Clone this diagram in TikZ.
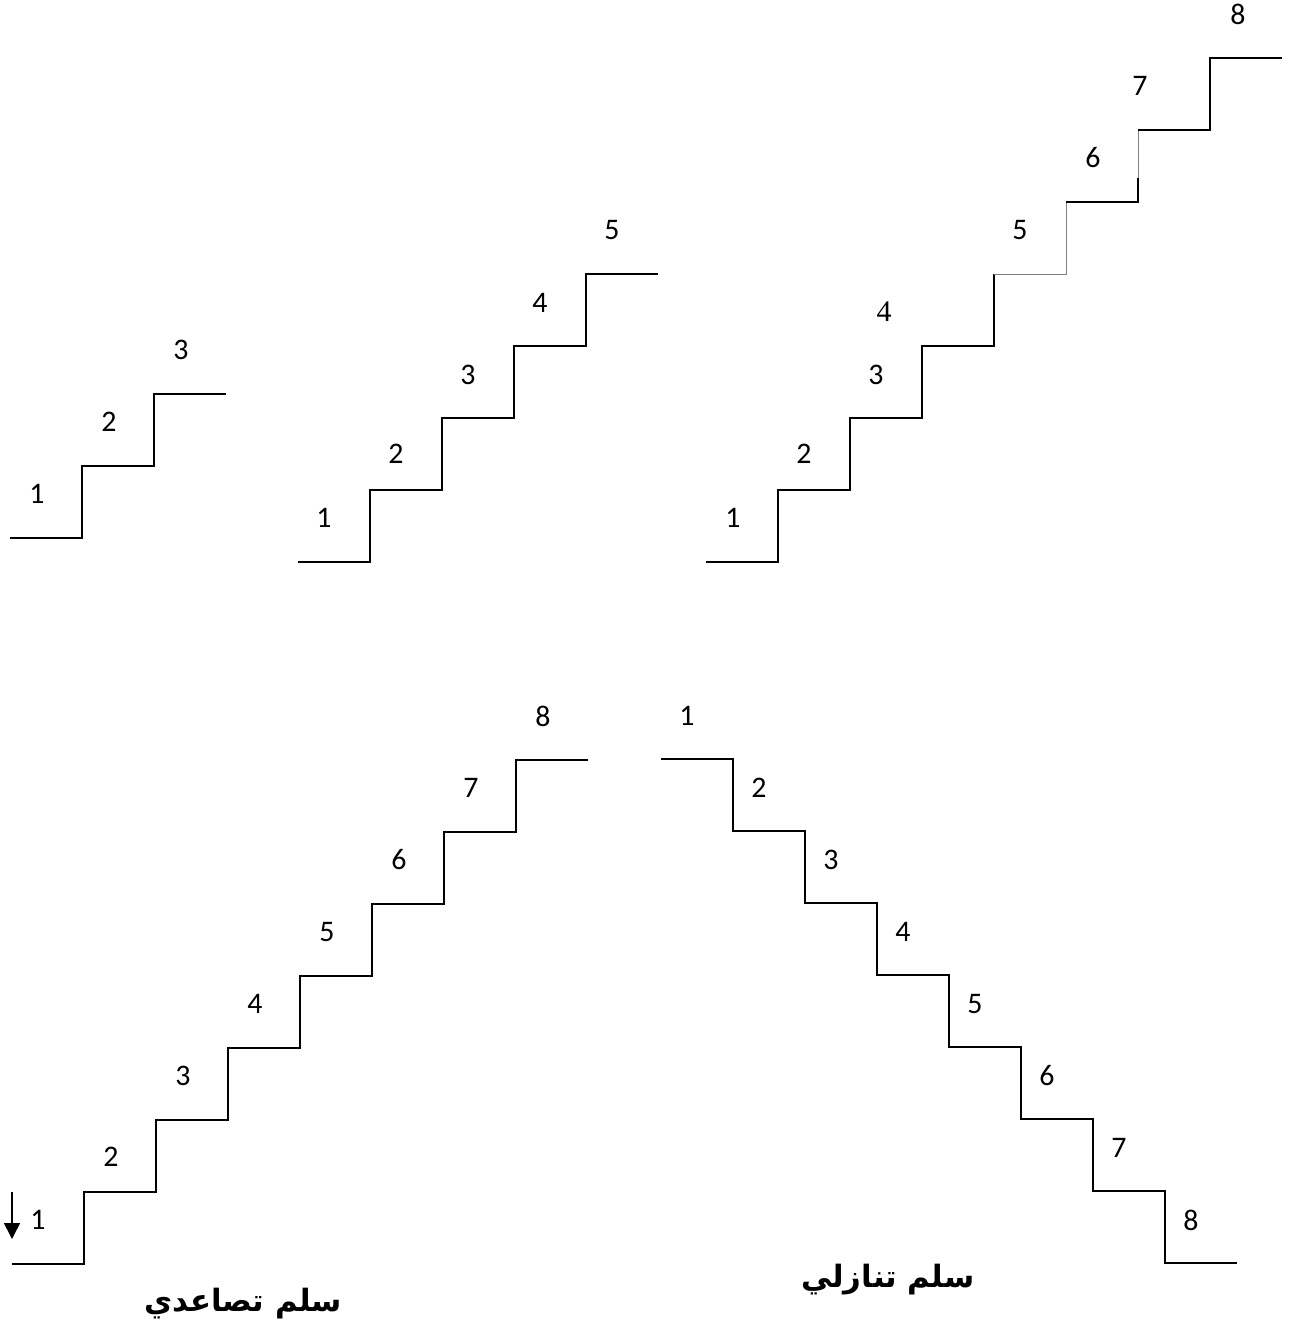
\documentclass[tikz,border=0pt]{standalone}
\usepackage{fontspec}
\setmainfont{Carlito}
\newfontfamily\serifnum{Liberation Serif}
\newfontfamily\arabicfont[Script=Arabic]{DejaVu Sans}
\TeXXeTstate=1
\usetikzlibrary{arrows.meta}

\begin{document}
\begin{tikzpicture}[
  x=0.02cm, y=-0.02cm,
  stair/.style={line width=1.4pt, line join=miter},
  thinstair/.style={line width=0.5pt, gray},
  num/.style={font=\fontsize{17}{19}\selectfont, inner sep=0pt},
  title/.style={font=\fontsize{17.5}{20}\selectfont\arabicfont\bfseries, inner sep=0pt},
  arr/.style={-{Triangle[width=9pt,length=9pt]}, line width=0.9pt},
]
\useasboundingbox (0,0) rectangle (1292,1324);

% three steps
\draw[stair] (10,538) -- ++(72,0) \foreach \i in {2,3} { -- ++(0,-72) -- ++(72,0) };
\foreach \i in {1,2,3}
  \node[num] (a\i) at ({37+72*(\i-1)},{494-72*(\i-1)}) {\i};

% five steps
\draw[stair] (298,562) -- ++(72,0) \foreach \i in {2,...,5} { -- ++(0,-72) -- ++(72,0) };
\node[num] (b1) at (324,518) {1};
\node[num] (b2) at (396,454) {2};
\node[num] (b3) at (468,375) {3};
\node[num] (b4) at (540,303) {4};
\node[num] (b5) at (612,230) {5};

% eight steps, partly thin
\draw[stair] (706,562) -- ++(72,0) \foreach \i in {2,...,4} { -- ++(0,-72) -- ++(72,0) } -- (994,274);
\draw[thinstair] (994,274) -- (1066,274) -- (1066,202);
\draw[stair] (1066,202) -- (1138,202) -- (1138,178);
\draw[thinstair] (1138,178) -- (1138,130);
\draw[stair] (1138,130) -- (1210,130) -- (1210,58) -- (1282,58);
\node[num] (c1) at (733,518) {1};
\node[num] (c2) at (804,454) {2};
\node[num] (c3) at (876,375) {3};
\node[num, font=\fontsize{17}{19}\selectfont\serifnum] (c4) at (884,312) {4};
\node[num] (c5) at (1020,230) {5};
\node[num] (c6) at (1093,158) {6};
\node[num] (c7) at (1140,86) {7};
\node[num] (c8) at (1238,14) {8};

% ascending
\draw[stair] (12,1264) -- ++(72,0) \foreach \i in {2,...,8} { -- ++(0,-72) -- ++(72,0) };
\node[num] (d1) at (38,1220) {1};
\node[num] (d2) at (111,1157) {2};
\foreach \i in {3,...,8}
  \node[num] (d\i) at ({39+72*(\i-1)},{1220-72*(\i-1)}) {\i};
\coordinate (up) at (12,1192);
\coordinate (down) at (12,1239);
\draw[arr] (up) -- (down);
\node[title] (asc) at (243,1304) {\beginR سلم تصاعدي\endR};

% descending
\draw[stair] (661,759) -- ++(72,0) \foreach \i in {2,...,8} { -- ++(0,72) -- ++(72,0) };
\foreach \i in {1,...,8}
  \node[num] (e\i) at ({687+72*(\i-1)},{716+72*(\i-1)}) {\i};
\node[title] (desc) at (888,1280) {\beginR سلم تنازلي\endR};
\end{tikzpicture}
\end{document}
